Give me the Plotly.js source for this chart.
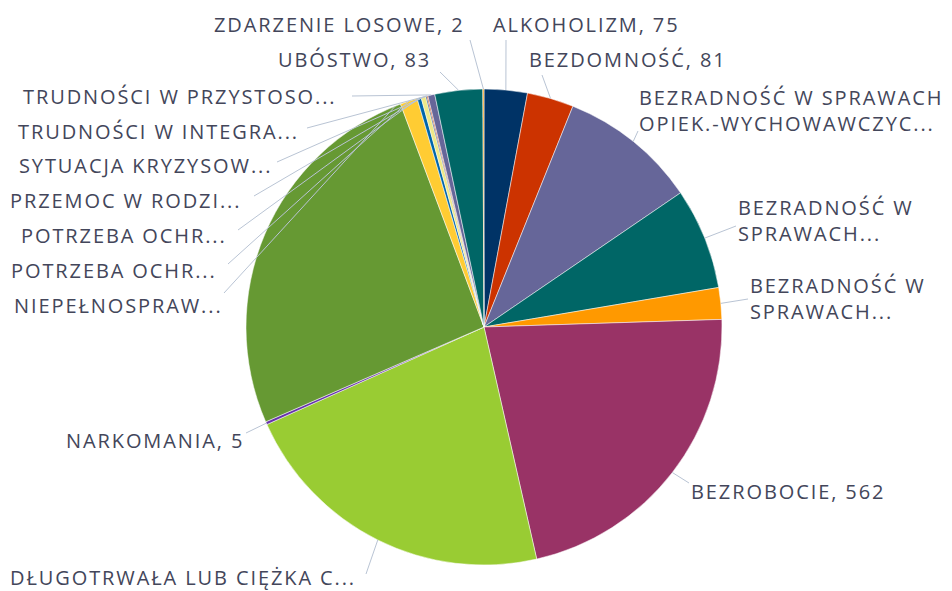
<!DOCTYPE html>
<html><head><meta charset="utf-8">
<script src="https://cdn.plot.ly/plotly-3.0.1.min.js"></script>
<style>
html,body{margin:0;padding:0;background:#fff}
#chart{width:952px;height:591px}
.annotation-text{letter-spacing:1.9px}
</style>
</head><body><div id="chart"></div>
<script>
// ---- data ----
const categories = [
  "ALKOHOLIZM",
  "BEZDOMNOŚĆ",
  "BEZRADNOŚĆ W SPRAWACH OPIEK.-WYCHOWAWCZYC...",
  "BEZRADNOŚĆ W SPRAWACH...",
  "BEZRADNOŚĆ W SPRAWACH...",
  "BEZROBOCIE",
  "DŁUGOTRWAŁA LUB CIĘŻKA C...",
  "NARKOMANIA",
  "NIEPEŁNOSPRAW...",
  "POTRZEBA OCHR...",
  "POTRZEBA OCHR...",
  "PRZEMOC W RODZI...",
  "SYTUACJA KRYZYSOW...",
  "TRUDNOŚCI W INTEGRA...",
  "TRUDNOŚCI W PRZYSTOSO...",
  "UBÓSTWO",
  "ZDARZENIE LOSOWE"
];
const values = [75, 81, 240, 176, 55, 562, 559, 5, 661, 30, 7, 8, 2, 2, 12, 83, 2];
const showValue = [true, true, false, false, false, true, false, true, false, false, false, false, false, false, false, true, true];

// ---- styles / layout ----
const colors = ["#003366","#CC3300","#666699","#006666","#FF9900","#993366","#99CC33","#6633AA",
                "#669933","#FFCC33","#0066AA","#EEE888","#003366","#CC3300","#666699","#006666","#FF9900"];
const W = 952, H = 591, CX = 484, CY = 327, R = 238;
// label anchor (px): x edge, y centre, side, words before line break, leader tail, leader head fraction in slice
const labelX    = [492, 528, 638, 737, 749, 690, 357, 245, 224, 228, 218, 242, 273, 300, 338, 432, 465];
const labelY    = [25, 59, 110, 220, 298, 491, 577, 440, 305, 235, 270, 200, 165, 131, 96, 59, 25];
const labelSide = ["l","l","l","l","l","l","r","r","r","r","r","r","r","r","r","r","r"];
const wrapAfter = [0,0,3,2,2,0,0,0,0,0,0,0,0,0,0,0,0];
const tailX     = [506, 542, 638, 736, 748, 689, 366, 246, 224, 228, 238, 254, 277, 307, 352, 440, 470];
const tailY     = [40, 75, 131, 226, 299, 483, 574, 433, 293, 264, 230, 196, 162, 128, 96, 72, 40];
const headFrac  = [0.5,0.5,0.5,0.5,0.5,0.5,0.5,0.5,0.985,0.5,0.5,0.5,0.5,0.5,0.5,0.5,0.5];

const total = values.reduce((a, b) => a + b, 0);
let cum = 0;
const annotations = [], shapes = [];
values.forEach((v, i) => {
  const a0 = cum / total * 360; cum += v; const a1 = cum / total * 360;
  const th = (a0 + (a1 - a0) * headFrac[i]) * Math.PI / 180;
  const hx = CX + R * Math.sin(th), hy = CY - R * Math.cos(th);
  shapes.push({type: "line", xref: "paper", yref: "paper",
    x0: hx / W, y0: 1 - hy / H, x1: tailX[i] / W, y1: 1 - tailY[i] / H,
    line: {color: "#b9c4d4", width: 1}});
  let txt = categories[i];
  if (wrapAfter[i]) {
    const w = txt.split(" ");
    txt = w.slice(0, wrapAfter[i]).join(" ") + "<br>" + w.slice(wrapAfter[i]).join(" ");
  }
  if (showValue[i]) txt += ", " + v;
  annotations.push({xref: "paper", yref: "paper", x: labelX[i] / W, y: 1 - labelY[i] / H,
    text: txt, showarrow: false, xanchor: labelSide[i] === "l" ? "left" : "right", yanchor: "middle",
    align: labelSide[i] === "l" ? "left" : "right", borderpad: 0,
    font: {family: "Open Sans, sans-serif", size: 20, color: "#43465a"}});
});

const trace = {
  type: "pie",
  values: values,
  label0: 0, dlabel: 1,
  hovertext: categories,
  sort: false,
  direction: "clockwise",
  rotation: 0,
  textinfo: "none",
  hoverinfo: "text+value",
  marker: {colors: colors, line: {color: "#ffffff", width: 0.5}},
  domain: {x: [(CX - R) / W, (CX + R) / W], y: [1 - (CY + R) / H, 1 - (CY - R) / H]},
  showlegend: false
};

Plotly.newPlot("chart", [trace], {
  width: W, height: H,
  margin: {l: 0, r: 0, t: 0, b: 0},
  paper_bgcolor: "#ffffff",
  showlegend: false,
  annotations: annotations,
  shapes: shapes
}, {displayModeBar: false, staticPlot: true});
</script>
</body></html>
